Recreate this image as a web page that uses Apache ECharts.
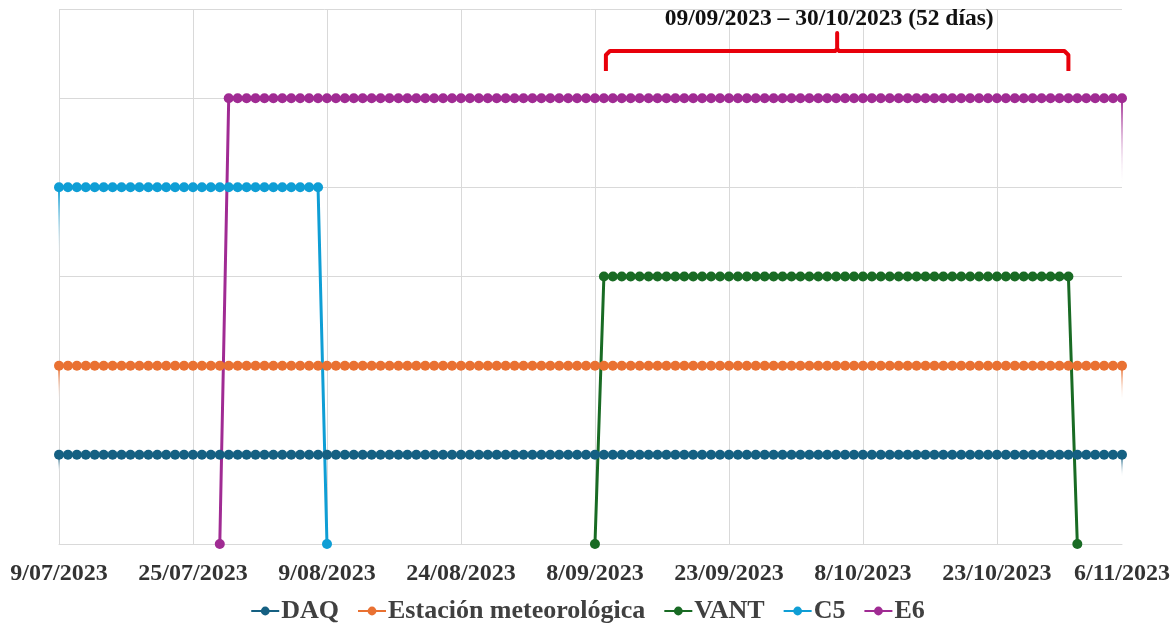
<!DOCTYPE html>
<html>
<head>
<meta charset="utf-8">
<script src="https://cdn.jsdelivr.net/npm/echarts@6/dist/echarts.min.js"></script>
<style>
  html, body { margin: 0; padding: 0; background: #fff; }
  #myChart { width: 1175px; height: 624px; }
</style>
</head>
<body>
<div id="myChart"></div>
<script>
// fechas (una por punto, categoría)
var fechas = [
  '9/07/2023', '10/07/2023', '11/07/2023', '12/07/2023', '13/07/2023', '14/07/2023', '15/07/2023',
  '17/07/2023', '18/07/2023', '19/07/2023', '20/07/2023', '21/07/2023', '22/07/2023', '23/07/2023',
  '24/07/2023', '25/07/2023', '26/07/2023', '27/07/2023', '28/07/2023', '29/07/2023', '30/07/2023',
  '31/07/2023', '1/08/2023', '2/08/2023', '3/08/2023', '4/08/2023', '5/08/2023', '6/08/2023',
  '7/08/2023', '8/08/2023', '9/08/2023', '10/08/2023', '11/08/2023', '12/08/2023', '13/08/2023',
  '14/08/2023', '15/08/2023', '16/08/2023', '17/08/2023', '18/08/2023', '19/08/2023', '20/08/2023',
  '21/08/2023', '22/08/2023', '23/08/2023', '24/08/2023', '25/08/2023', '26/08/2023', '27/08/2023',
  '28/08/2023', '29/08/2023', '30/08/2023', '31/08/2023', '1/09/2023', '2/09/2023', '3/09/2023',
  '4/09/2023', '5/09/2023', '6/09/2023', '7/09/2023', '8/09/2023', '9/09/2023', '10/09/2023',
  '11/09/2023', '12/09/2023', '13/09/2023', '14/09/2023', '15/09/2023', '16/09/2023', '17/09/2023',
  '18/09/2023', '19/09/2023', '20/09/2023', '21/09/2023', '22/09/2023', '23/09/2023', '24/09/2023',
  '25/09/2023', '26/09/2023', '27/09/2023', '28/09/2023', '29/09/2023', '30/09/2023', '1/10/2023',
  '2/10/2023', '3/10/2023', '4/10/2023', '5/10/2023', '6/10/2023', '7/10/2023', '8/10/2023',
  '9/10/2023', '10/10/2023', '11/10/2023', '12/10/2023', '13/10/2023', '14/10/2023', '15/10/2023',
  '16/10/2023', '17/10/2023', '18/10/2023', '19/10/2023', '20/10/2023', '21/10/2023', '22/10/2023',
  '23/10/2023', '24/10/2023', '25/10/2023', '26/10/2023', '27/10/2023', '28/10/2023', '29/10/2023',
  '30/10/2023', '31/10/2023', '1/11/2023', '2/11/2023', '3/11/2023', '4/11/2023', '5/11/2023',
  '6/11/2023'
]

// posiciones de las etiquetas del eje X
var etiquetasX = [0, 15, 30, 45, 60, 75, 90, 105, 119]
var lineasX = [0, 15, 30, 45, 60, 75, 90, 105]

var DAQ = [
  1, 1, 1, 1, 1, 1, 1, 1, 1, 1, 1, 1, 1, 1, 1, 1, 1, 1, 1, 1,
  1, 1, 1, 1, 1, 1, 1, 1, 1, 1, 1, 1, 1, 1, 1, 1, 1, 1, 1, 1,
  1, 1, 1, 1, 1, 1, 1, 1, 1, 1, 1, 1, 1, 1, 1, 1, 1, 1, 1, 1,
  1, 1, 1, 1, 1, 1, 1, 1, 1, 1, 1, 1, 1, 1, 1, 1, 1, 1, 1, 1,
  1, 1, 1, 1, 1, 1, 1, 1, 1, 1, 1, 1, 1, 1, 1, 1, 1, 1, 1, 1,
  1, 1, 1, 1, 1, 1, 1, 1, 1, 1, 1, 1, 1, 1, 1, 1, 1, 1, 1, 1
]

var Estacion = [
  2, 2, 2, 2, 2, 2, 2, 2, 2, 2, 2, 2, 2, 2, 2, 2, 2, 2, 2, 2,
  2, 2, 2, 2, 2, 2, 2, 2, 2, 2, 2, 2, 2, 2, 2, 2, 2, 2, 2, 2,
  2, 2, 2, 2, 2, 2, 2, 2, 2, 2, 2, 2, 2, 2, 2, 2, 2, 2, 2, 2,
  2, 2, 2, 2, 2, 2, 2, 2, 2, 2, 2, 2, 2, 2, 2, 2, 2, 2, 2, 2,
  2, 2, 2, 2, 2, 2, 2, 2, 2, 2, 2, 2, 2, 2, 2, 2, 2, 2, 2, 2,
  2, 2, 2, 2, 2, 2, 2, 2, 2, 2, 2, 2, 2, 2, 2, 2, 2, 2, 2, 2
]

var VANT = [
  null, null, null, null, null, null, null, null, null, null, null, null, null, null, null, null, null, null, null, null,
  null, null, null, null, null, null, null, null, null, null, null, null, null, null, null, null, null, null, null, null,
  null, null, null, null, null, null, null, null, null, null, null, null, null, null, null, null, null, null, null, null,
  0, 3, 3, 3, 3, 3, 3, 3, 3, 3, 3, 3, 3, 3, 3, 3, 3, 3, 3, 3,
  3, 3, 3, 3, 3, 3, 3, 3, 3, 3, 3, 3, 3, 3, 3, 3, 3, 3, 3, 3,
  3, 3, 3, 3, 3, 3, 3, 3, 3, 3, 3, 3, 3, 3, 0
]

var C5 = [
  4, 4, 4, 4, 4, 4, 4, 4, 4, 4, 4, 4, 4, 4, 4, 4, 4, 4, 4, 4,
  4, 4, 4, 4, 4, 4, 4, 4, 4, 4, 0
]

var E6 = [
  null, null, null, null, null, null, null, null, null, null, null, null, null, null, null, null, null, null,
  0, 5, 5,
  5, 5, 5, 5, 5, 5, 5, 5, 5, 5, 5, 5, 5, 5, 5, 5, 5, 5, 5, 5,
  5, 5, 5, 5, 5, 5, 5, 5, 5, 5, 5, 5, 5, 5, 5, 5, 5, 5, 5, 5,
  5, 5, 5, 5, 5, 5, 5, 5, 5, 5, 5, 5, 5, 5, 5, 5, 5, 5, 5, 5,
  5, 5, 5, 5, 5, 5, 5, 5, 5, 5, 5, 5, 5, 5, 5, 5, 5, 5, 5, 5,
  5, 5, 5, 5, 5, 5, 5, 5, 5, 5, 5, 5, 5, 5, 5, 5, 5, 5, 5, 5
]

// periodo marcado con la llave roja (índices de fechas)
var periodoInicio = 61
var periodoFin = 113
var periodoTexto = '09/09/2023 – 30/10/2023 (52 días)'

var fuente = '"Liberation Serif", "Times New Roman", serif'
var colores = {
  DAQ: '#156082',
  Estacion: '#E97132',
  VANT: '#196B24',
  C5: '#0F9ED5',
  E6: '#A02B93'
}

function serie (nombre, datos, color) {
  return {
    name: nombre,
    type: 'line',
    data: datos,
    symbol: 'circle',
    symbolSize: 10,
    showSymbol: true,
    showAllSymbol: true,
    animation: false,
    lineStyle: { color: color, width: 3 },
    itemStyle: { color: color }
  }
}

var myChart = echarts.init(document.getElementById('myChart'))
myChart.setOption({
  animation: false,
  grid: {
    left: 59,
    right: 53,
    top: 9,
    bottom: 80
  },
  legend: {
    bottom: -5,
    left: 'center',
    itemWidth: 28,
    itemHeight: 11,
    itemGap: 18,
    textStyle: {
      fontFamily: fuente,
      fontWeight: 'bold',
      fontSize: 26,
      color: '#404040',
      padding: [0, 0, 0, -3]
    },
    data: ['DAQ', 'Estación meteorológica', 'VANT', 'C5', 'E6']
  },
  xAxis: {
    type: 'category',
    boundaryGap: false,
    data: fechas,
    axisLine: { lineStyle: { color: '#d9d9d9', width: 1 } },
    axisTick: { show: false },
    axisLabel: {
      interval: function (index) {
        return etiquetasX.indexOf(index) >= 0
      },
      margin: 18,
      fontFamily: fuente,
      fontWeight: 'bold',
      fontSize: 24,
      color: '#333'
    },
    splitLine: {
      show: true,
      interval: function (index) {
        return lineasX.indexOf(index) >= 0
      },
      lineStyle: { color: '#d9d9d9', width: 1 }
    }
  },
  yAxis: {
    type: 'value',
    min: 0,
    max: 6,
    interval: 1,
    axisLine: { show: false },
    axisTick: { show: false },
    axisLabel: { show: false },
    splitLine: { lineStyle: { color: '#d9d9d9', width: 1 } }
  },
  series: [
    serie('DAQ', DAQ, colores.DAQ),
    serie('Estación meteorológica', Estacion, colores.Estacion),
    serie('VANT', VANT, colores.VANT),
    serie('C5', C5, colores.C5),
    serie('E6', E6, colores.E6)
  ]
})

// llave roja y texto del periodo
var xa = myChart.convertToPixel({ xAxisIndex: 0 }, periodoInicio) + 2
var xb = myChart.convertToPixel({ xAxisIndex: 0 }, periodoFin)
var xm = (xa + xb) / 2
var yBarra = 51

// pequeñas colas recortadas en los bordes del área de trazado
function cola (idx, desde, hasta, color) {
  var p1 = myChart.convertToPixel({ xAxisIndex: 0, yAxisIndex: 0 }, [idx, desde])
  var p2 = myChart.convertToPixel({ xAxisIndex: 0, yAxisIndex: 0 }, [idx, hasta])
  return {
    type: 'line',
    silent: true,
    z: 1,
    shape: { x1: p1[0], y1: p1[1], x2: p2[0], y2: p2[1] },
    style: {
      lineWidth: 2,
      stroke: new echarts.graphic.LinearGradient(0, p1[1], 0, p2[1], [
        { offset: 0, color: color },
        { offset: 1, color: 'rgba(255,255,255,0)' }
      ], true)
    }
  }
}

myChart.setOption({
  graphic: [
    cola(0, 1, 0.8, colores.DAQ),
    cola(0, 2, 1.6, colores.Estacion),
    cola(0, 4, 3.2, colores.C5),
    cola(119, 1, 0.75, colores.DAQ),
    cola(119, 2, 1.6, colores.Estacion),
    cola(119, 5, 4, colores.E6),
    {
      type: 'polyline',
      silent: true,
      shape: {
        points: [
          [xa, 71], [xa, yBarra + 4], [xa + 4, yBarra],
          [xm - 2, yBarra], [xm, yBarra - 2], [xm, 33], [xm, yBarra - 2], [xm + 2, yBarra],
          [xb - 4, yBarra], [xb, yBarra + 4], [xb, 71]
        ]
      },
      style: { stroke: '#E8000B', lineWidth: 4, fill: null, lineJoin: 'round' }
    },
    {
      type: 'text',
      silent: true,
      x: xm - 8,
      y: 19,
      style: {
        text: periodoTexto,
        align: 'center',
        verticalAlign: 'middle',
        fontFamily: fuente,
        fontWeight: 'bold',
        fontSize: 23.5,
        fill: '#111'
      }
    }
  ]
})

window.onresize = function () {
  myChart.resize()
}
</script>
</body>
</html>
